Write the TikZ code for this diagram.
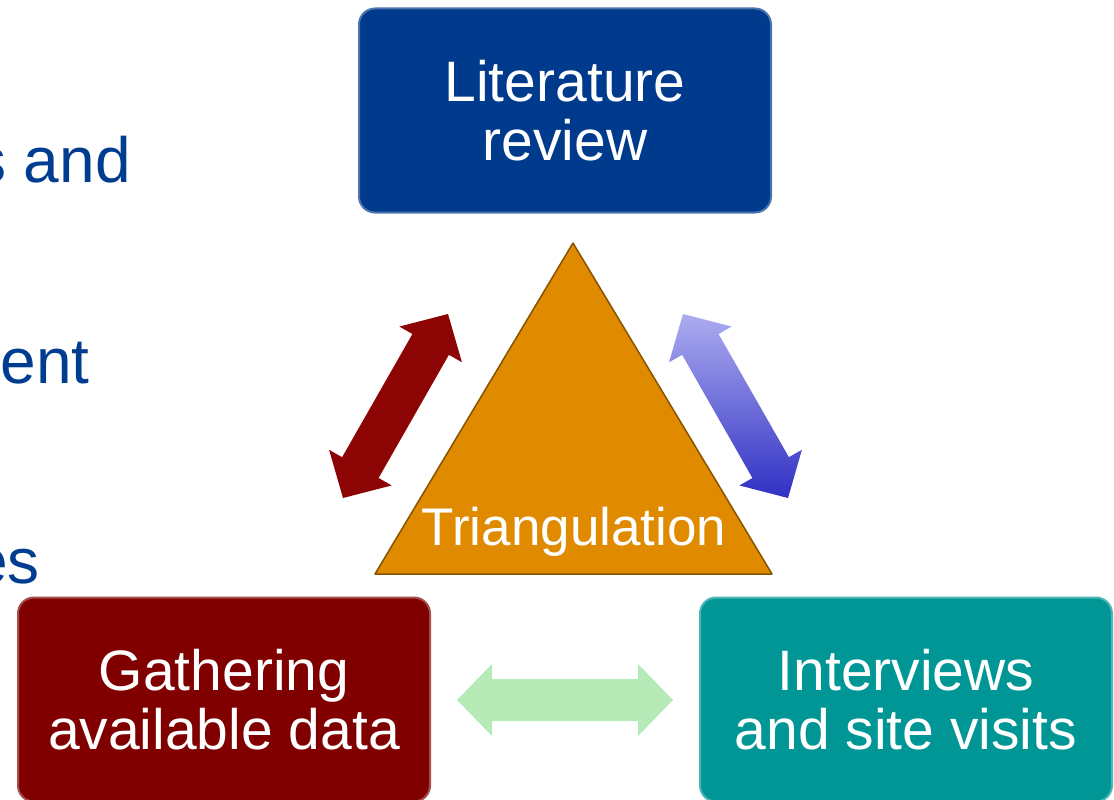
\documentclass[tikz,border=0pt]{standalone}
\usepackage{fontspec}
\setmainfont{Liberation Sans}
\usetikzlibrary{calc}
\usetikzlibrary{positioning}
\definecolor{litblue}{RGB}{0,58,140}
\definecolor{gathred}{RGB}{128,0,0}
\definecolor{intteal}{RGB}{0,150,150}
\definecolor{triorange}{RGB}{224,138,0}
\definecolor{sideblue}{RGB}{0,60,143}
\definecolor{arrred}{RGB}{140,4,4}
\definecolor{arrbluetop}{RGB}{172,172,240}
\definecolor{arrbluebot}{RGB}{48,48,196}
\definecolor{arrgreen}{RGB}{182,234,182}
\tikzset{
    mybox/.style = {rectangle, rounded corners=16pt, line width=2pt, align=center, minimum width=412pt, minimum height=204pt, inner sep=0pt, text=white, font={\fontsize{57}{59}\selectfont}},
    myboxb/.style = {mybox, fill=litblue, draw=litblue!70!white},
    myboxr/.style = {mybox, fill=gathred, draw=gathred!70!white},
    myboxt/.style = {mybox, fill=intteal, draw=intteal!70!white},
    mytri/.style = {fill=triorange, draw=triorange!60!black, line width=1.5pt, line join=round},
    mylabel/.style = {inner sep=0pt, text=white, font={\fontsize{53}{55}\selectfont}},
    myside/.style = {inner sep=0pt, anchor=base east, text=sideblue, font={\fontsize{64}{66}\selectfont}},
    arrowr/.style = {fill=arrred},
    arrowb/.style = {top color=arrbluetop, bottom color=arrbluebot},
    arrowg/.style = {fill=arrgreen},
}
% double-headed block arrow: style, from, to
\newcommand{\dblarrow}[3]{%
  \coordinate (ha) at ($(#2)!35pt!(#3)$);
  \coordinate (hb) at ($(#3)!35pt!(#2)$);
  \path[#1] (#2) -- ($(ha)!36pt!90:(#3)$) -- ($(ha)!21pt!90:(#3)$)
    -- ($(hb)!21pt!-90:(#2)$) -- ($(hb)!36pt!-90:(#2)$) -- (#3)
    -- ($(hb)!36pt!90:(#2)$) -- ($(hb)!21pt!90:(#2)$)
    -- ($(ha)!21pt!-90:(#3)$) -- ($(ha)!36pt!-90:(#3)$) -- cycle;}

\begin{document}
\begin{tikzpicture}[x=1pt, y=-1pt]
  \useasboundingbox (0,0) rectangle (1114,800);
  \clip (0,0) rectangle (1114,800);

  % cut-off text on the left
  \node[myside] (s1) at (131,182) {s and};
  \node[myside] (s2) at (90,383) {ent};
  \node[myside] (s3) at (40,583) {es};

  % the three sources
  \node[myboxb] (lit) at (565,110.5) {Literature\\review};
  \node[myboxr] (gath) at (224,699.5) {Gathering\\available data};
  \node[myboxt] (intv) at (906,699.5) {Interviews\\and site visits};

  % triangle
  \coordinate (apex) at (573,243);
  \coordinate (tl) at (375,574);
  \coordinate (tr) at (772,574);
  \path[mytri] (apex) -- (tl) -- (tr) -- cycle;
  \node[mylabel, anchor=base] (tri) at (574,545) {Triangulation};

  % arrows
  \coordinate (r1) at (448,314);
  \coordinate (r2) at (343,498);
  \coordinate (b1) at (683,314);
  \coordinate (b2) at (788,498);
  \coordinate (g1) at (457,700);
  \coordinate (g2) at (673,700);
  \dblarrow{arrowr}{r1}{r2}
  \dblarrow{arrowb}{b1}{b2}
  \dblarrow{arrowg}{g1}{g2}

\end{tikzpicture}
\end{document}
